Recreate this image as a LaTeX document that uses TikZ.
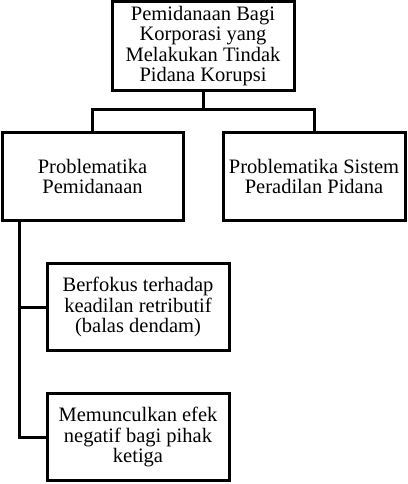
\documentclass[tikz,border=0pt]{standalone}
\usepackage{fontspec}
\setmainfont{Liberation Serif}
\begin{document}
\begin{tikzpicture}[x=1pt,y=-1pt,
  box/.style={draw,line width=3pt,align=center,inner sep=0pt,
    font=\fontsize{20.5}{20.5}\selectfont},
  link/.style={line width=3pt,line cap=rect}]
\useasboundingbox (0,0) rectangle (407,484);
\node[box,minimum width=182pt,minimum height=88.5pt] (top) at (203,46)
  {Pemidanaan Bagi\\Korporasi yang\\Melakukan Tindak\\Pidana Korupsi};
\node[box,minimum width=181pt,minimum height=88pt] (left) at (92.5,176.5)
  {Problematika\\Pemidanaan};
\node[box,minimum width=182pt,minimum height=88pt] (right) at (314,176.5)
  {Problematika Sistem\\Peradilan Pidana};
\node[box,minimum width=182pt,minimum height=87pt] (s1) at (138,307)
  {Berfokus terhadap\\keadilan retributif\\(balas dendam)};
\node[box,minimum width=182pt,minimum height=87pt] (s2) at (138,437)
  {Memunculkan efek\\negatif bagi pihak\\ketiga};
\coordinate (barL) at (92.5,110);
\coordinate (barR) at (314,110);
\coordinate (trunk) at (19,0);
\draw[link] (top.south) -- (top.south |- barL);
\draw[link] (barL) -- (barR);
\draw[link] (barL) -- (left.north);
\draw[link] (barR) -- (right.north);
\draw[link] (trunk |- left.south) -- (trunk |- s2.west);
\draw[link] (trunk |- s1.west) -- (s1.west);
\draw[link] (trunk |- s2.west) -- (s2.west);
\end{tikzpicture}
\end{document}
